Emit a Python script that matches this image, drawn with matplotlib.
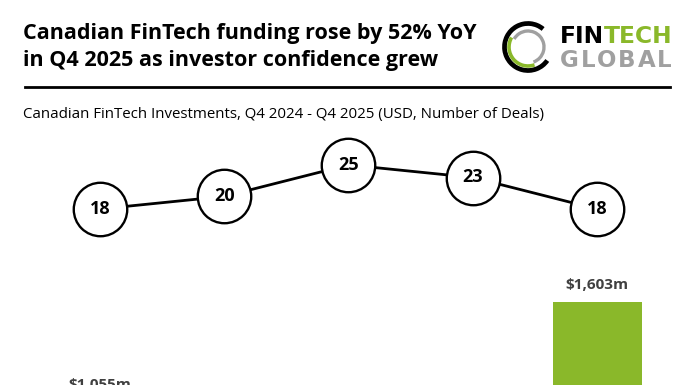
import matplotlib
matplotlib.use("Agg")
import matplotlib.pyplot as plt
from matplotlib.patches import Arc

# data
quarters = ["Q4 2024", "Q1 2025", "Q2 2025", "Q3 2025", "Q4 2025"]
funding = [1055, 560, 832, 948, 1603]   # USD m (only first and last visible in the crop)
deals = [18, 20, 25, 23, 18]

GREEN = "#8ab82a"
DARK = "#404040"
plt.rcParams['font.family'] = ['Open Sans', 'DejaVu Sans']

W, H = 696, 385
fig = plt.figure(figsize=(W / 100, H / 100), dpi=100)

def fx(px):
    return px / W

def fy(py):
    return 1 - py / H

# header
fig.text(fx(23), fy(39), "Canadian FinTech funding rose by 52% YoY", fontsize=15.5,
         fontweight="bold", color="black", va="baseline")
fig.text(fx(23), fy(66), "in Q4 2025 as investor confidence grew", fontsize=15.5,
         fontweight="bold", color="black", va="baseline")
fig.add_artist(plt.Line2D([fx(25), fx(670)], [fy(87), fy(87)], color="black", lw=2))
fig.text(fx(23), fy(118), "Canadian FinTech Investments, Q4 2024 - Q4 2025 (USD, Number of Deals)",
         fontsize=10.8, color="black", va="baseline")

# logo
lax = fig.add_axes([fx(500), fy(75), fx(56), 56 / H])
lax.set_xlim(-28, 28)
lax.set_ylim(-28, 28)
lax.set_aspect("equal")
lax.axis("off")
lax.add_patch(Arc((0, 0), 47, 47, theta1=50, theta2=325, color="black", lw=3.4))
lax.add_patch(Arc((0, 0), 32, 32, theta1=-70, theta2=150, color="#a0a0a0", lw=2.4))
lax.add_patch(Arc((0, 0), 38, 38, theta1=150, theta2=290, color=GREEN, lw=2.6))

t1 = fig.text(fx(560), fy(43), "FIN", fontsize=16.8, fontweight="bold", color="black",
              family="DejaVu Sans", va="baseline")
fig.canvas.draw()
bb = t1.get_window_extent()
fig.text(bb.x1 / W, fy(43), "TECH", fontsize=16.8, fontweight="bold", color=GREEN,
         family="DejaVu Sans", va="baseline")
# GLOBAL is letter-spaced in the logo
gx = 560
for ch in "GLOBAL":
    t = fig.text(fx(gx), fy(67), ch, fontsize=16.5, fontweight="bold", color="#a0a0a0",
                 family="DejaVu Sans", va="baseline")
    fig.canvas.draw()
    gx = t.get_window_extent().x1 + 1.8

# chart area (extends below the cropped bottom edge)
left, right = 37.85, 659.15
top, bottom = 130, 594.5
ax = fig.add_axes([fx(left), fy(bottom), (right - left) / W, (bottom - top) / H])
x = list(range(len(quarters)))
ax.bar(x, funding, width=0.716, color=GREEN)
for xi, v in zip(x, funding):
    ax.annotate(f"${v:,}m", (xi, v), xytext=(0, 10), textcoords="offset pixels",
                ha="center", va="bottom", fontsize=11, fontweight="bold", color=DARK)
ax.set_xlim(-0.5, 4.5)
ax.set_ylim(0, (bottom - top) / 0.1825)
ax.axis("off")

ax2 = ax.twinx()
ax2.plot(x, deals, color="black", lw=2, marker="o", markersize=38.5,
         markerfacecolor="white", markeredgecolor="black", markeredgewidth=1.7)
for xi, d in zip(x, deals):
    ax2.text(xi, d, str(d), ha="center", va="center", fontsize=13,
             fontweight="bold", color="black")
ax2.set_ylim((322.4 - bottom) / 6.3, (322.4 - top) / 6.3)
ax2.axis("off")

fig.savefig("out.png", dpi=100)
